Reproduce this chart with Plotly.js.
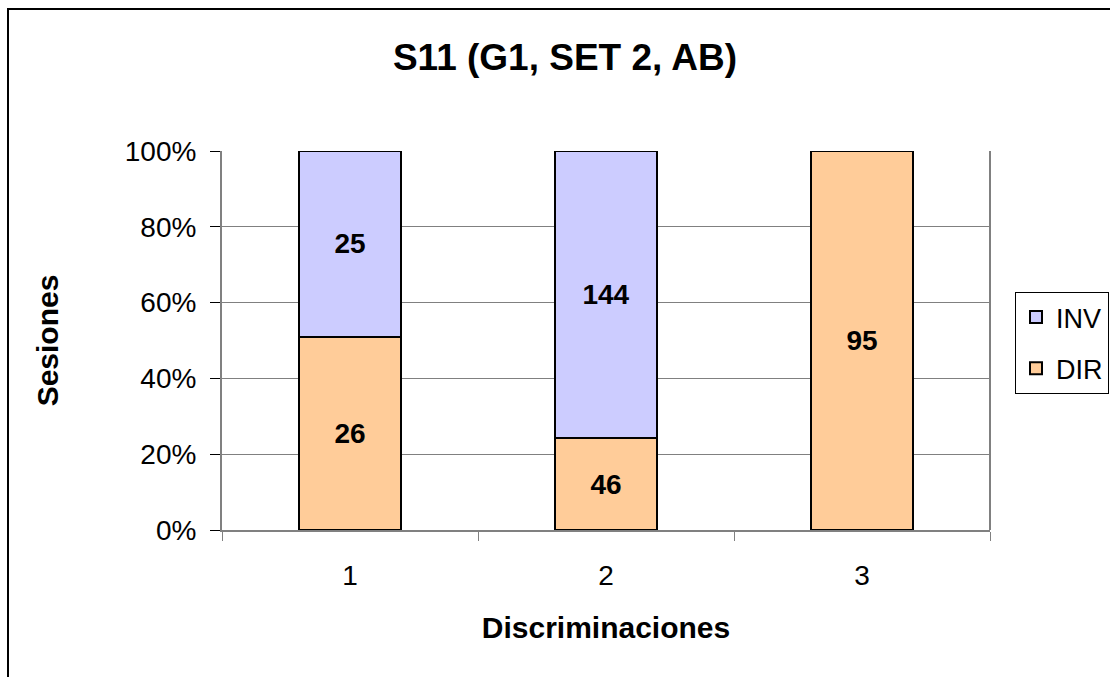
<!DOCTYPE html>
<html><head><meta charset="utf-8">
<script src="https://cdn.plot.ly/plotly-3.0.1.min.js"></script>
<style>
html,body{margin:0;padding:0;background:#fff;overflow:hidden}
#frame{position:absolute;left:7px;top:8px;width:1200px;height:800px;border-left:2px solid #000;border-top:2px solid #000;pointer-events:none;box-sizing:border-box}
</style></head>
<body>
<div id="chart" style="width:1110px;height:677px"></div>
<div id="frame"></div>
<script>
const categories = ['1', '2', '3'];
const dirValues = [26, 46, 95];
const invValues = [25, 144, 0];
const seriesNames = ['DIR', 'INV'];
const titleText = 'S11 (G1, SET 2, AB)';
const xTitle = 'Discriminaciones';
const yTitle = 'Sesiones';

const font = 'Liberation Sans, Arial, sans-serif';
const lbl = v => (v ? String(v) : '');

const common = {
  type: 'bar',
  textposition: 'inside',
  insidetextanchor: 'middle',
  textangle: 0,
  constraintext: 'none',
  textfont: {family: font, size: 28, color: '#000', weight: 'bold'},
  hoverinfo: 'skip'
};

const traces = [
  Object.assign({}, common, {
    x: categories, y: dirValues, name: seriesNames[0], legendgroup: 'g1', legendrank: 2,
    text: dirValues.map(lbl),
    marker: {color: '#FFCC99', line: {color: '#000', width: 2}}
  }),
  Object.assign({}, common, {
    x: categories, y: invValues, name: seriesNames[1], legendgroup: 'g2', legendrank: 1,
    text: invValues.map(lbl),
    marker: {color: '#CCCCFF', line: {color: '#000', width: 2}}
  })
];

const layout = {
  width: 1110, height: 677,
  margin: {l: 222, r: 120, t: 151, b: 147, autoexpand: false},
  paper_bgcolor: '#fff', plot_bgcolor: '#fff',
  barmode: 'stack', barnorm: 'percent', bargap: 0.605,
  font: {family: font, size: 27, color: '#000'},
  title: {text: titleText, font: {family: font, size: 37, weight: 'bold', color: '#000'},
          x: 0.509, xanchor: 'center', y: 0.915, yanchor: 'middle'},
  xaxis: {
    type: 'category', tickson: 'boundaries', ticks: 'outside', ticklen: 9, tickwidth: 1, tickcolor: '#808080',
    showline: true, linecolor: '#808080', linewidth: 2, mirror: false, showgrid: false,
    tickfont: {family: font, size: 28, color: '#000'}, ticklabelstandoff: 19,
    title: {text: xTitle, font: {family: font, size: 30, weight: 'bold', color: '#000'}, standoff: 27}
  },
  yaxis: {
    range: [0, 100], tickvals: [0, 20, 40, 60, 80, 100], ticktext: ['0%','20%','40%','60%','80%','100%'],
    ticks: 'outside', ticklen: 10, tickwidth: 1, tickcolor: '#000',
    showline: true, linecolor: '#808080', linewidth: 2, showgrid: true, gridcolor: '#808080', gridwidth: 1,
    zeroline: false, tickfont: {family: font, size: 28, color: '#000'}, ticklabelstandoff: 8,
    title: {text: yTitle, font: {family: font, size: 30, weight: 'bold', color: '#000'}, standoff: 57}
  },
  shapes: [
    {type: 'line', xref: 'paper', yref: 'paper', x0: 1, x1: 1, y0: 0, y1: 1, line: {color: '#808080', width: 2}}
  ],
  legend: {
    xref: 'container', yref: 'container',
    x: 1015 / 1110, xanchor: 'left', y: 1 - 292 / 677, yanchor: 'top',
    bordercolor: '#000', borderwidth: 1, bgcolor: '#fff',
    font: {family: font, size: 27, color: '#000'},
    traceorder: 'grouped', tracegroupgap: 13,
    itemwidth: 30
  },
  showlegend: true
};

Plotly.newPlot('chart', traces, layout, {displayModeBar: false, staticPlot: true});
</script>
</body></html>
